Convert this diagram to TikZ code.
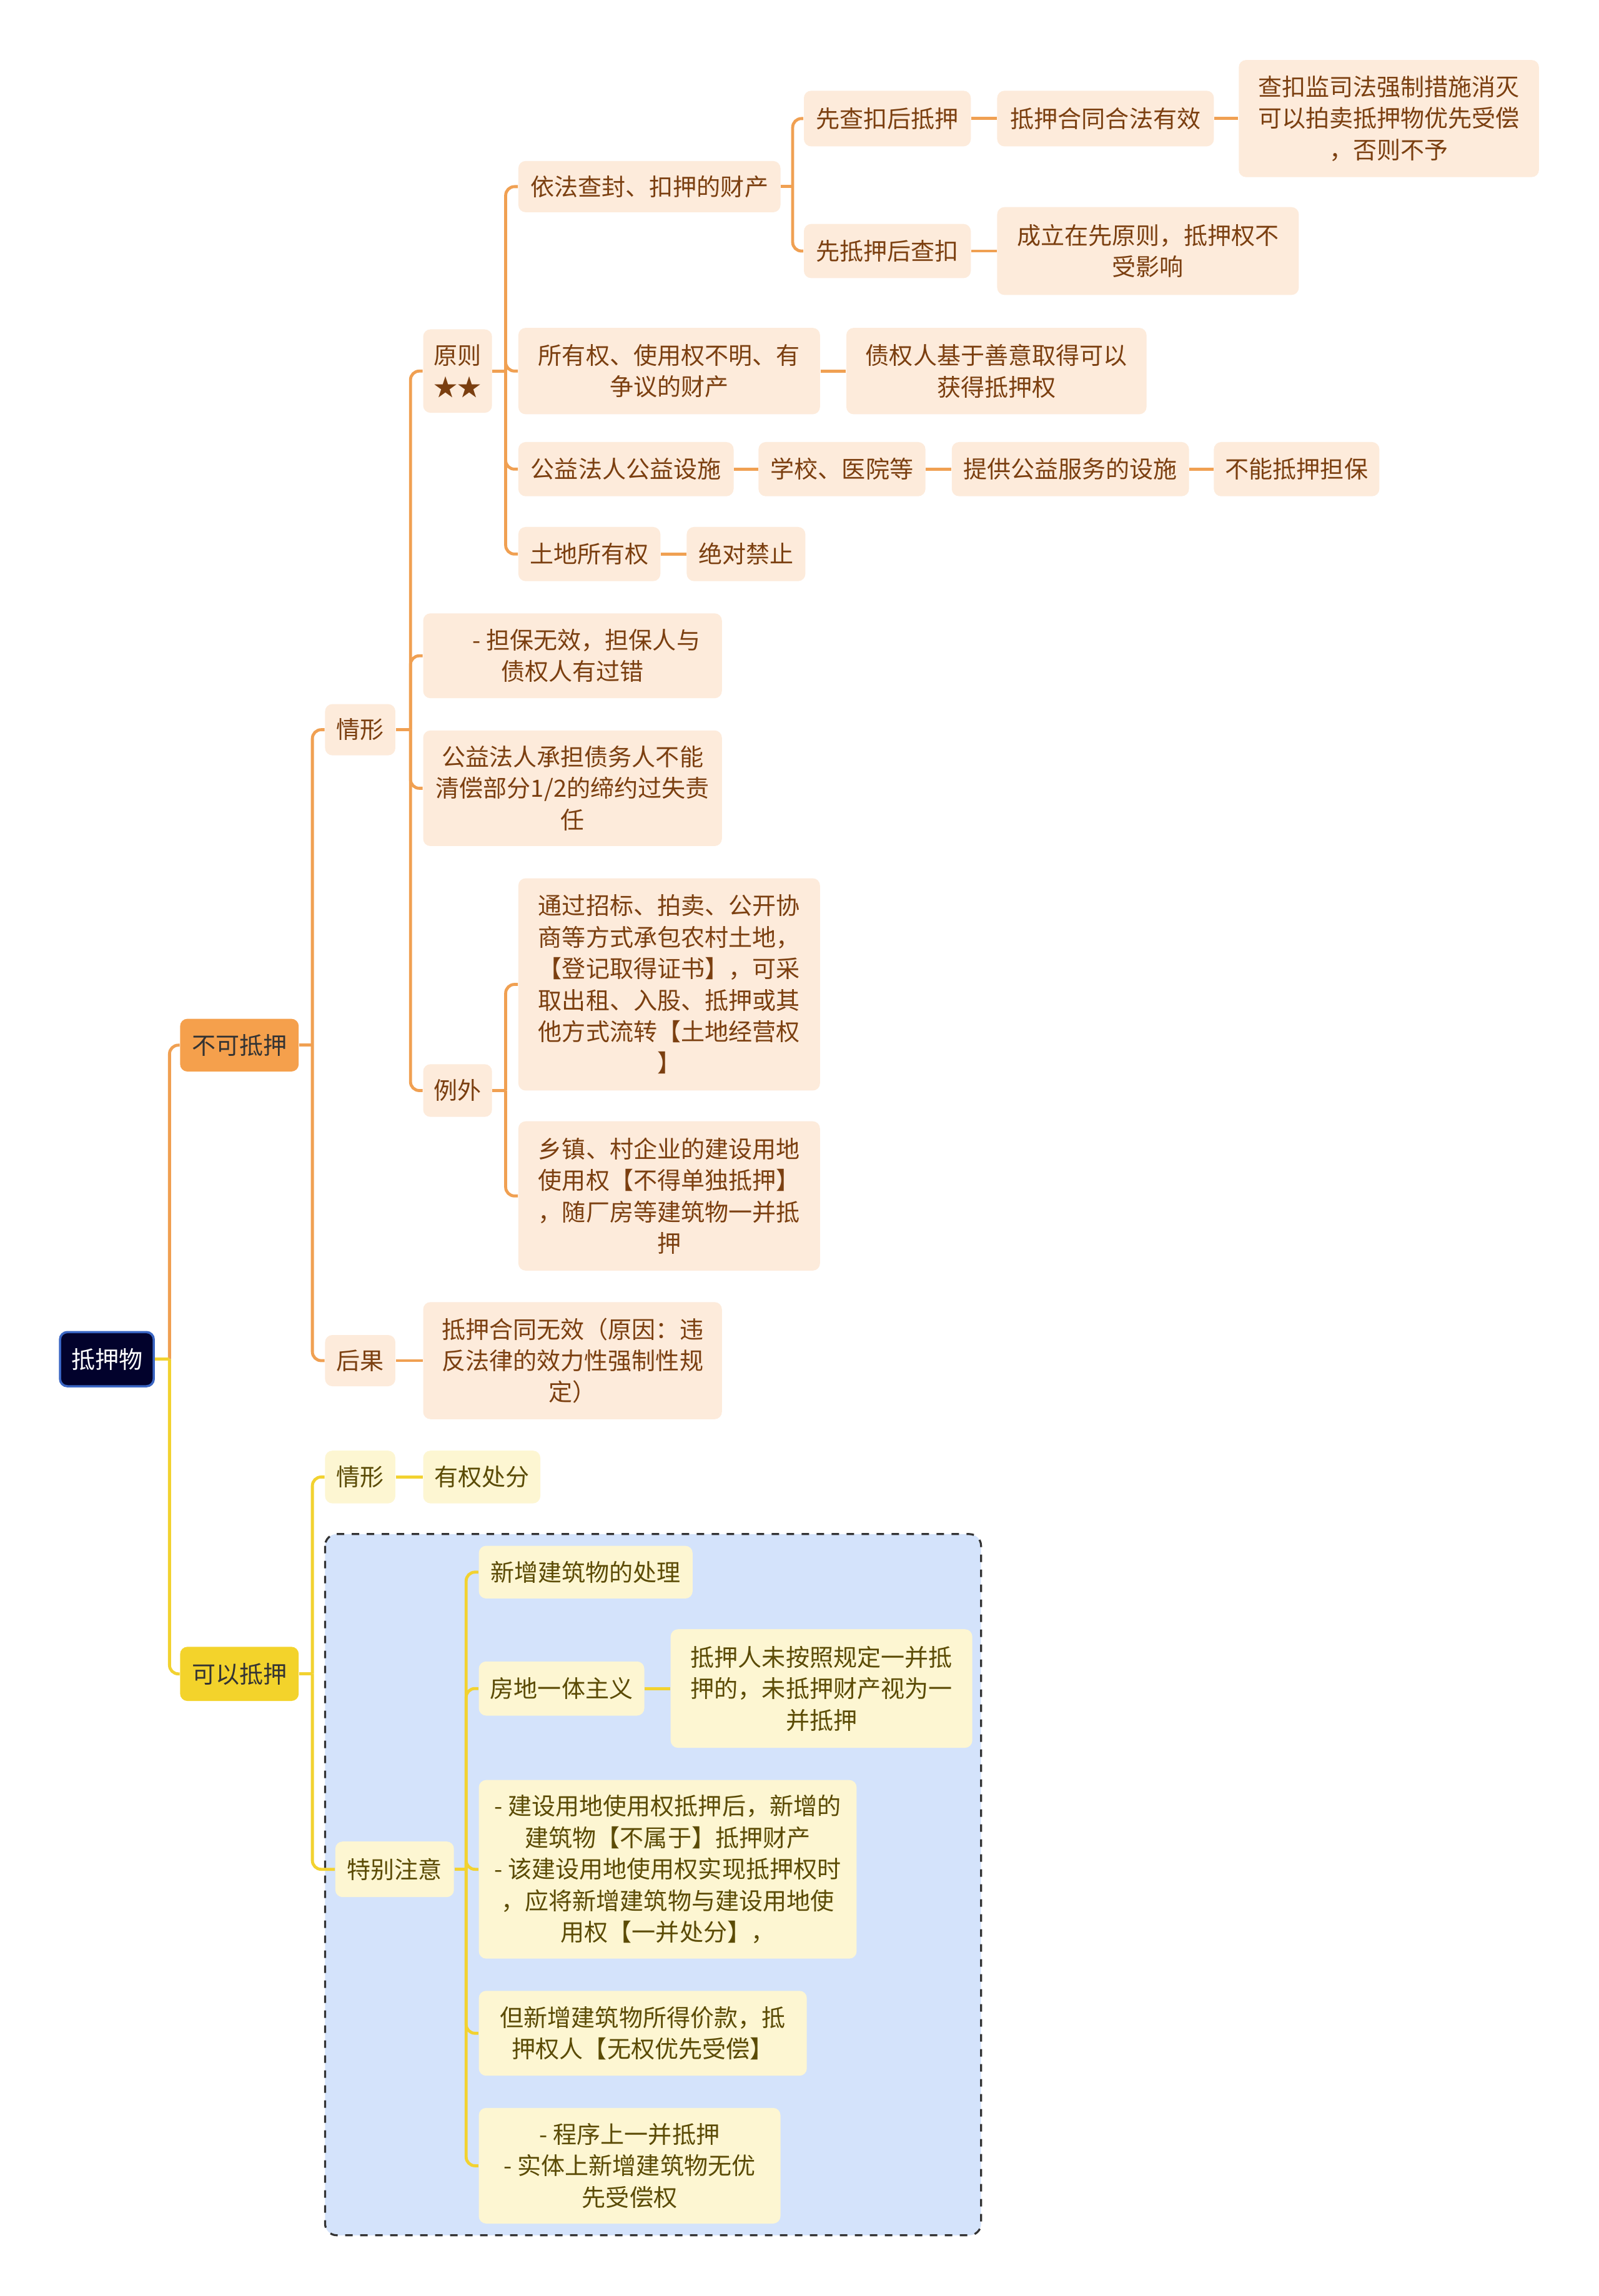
\documentclass[tikz,border=0pt]{standalone}
\usepackage{fontspec}
\setmainfont{Noto Sans CJK SC}
\newlength\pxu
\setlength\pxu{0.586pt}
\definecolor{rootfill}{HTML}{02022C}
\definecolor{rootdraw}{HTML}{3A66C4}
\definecolor{l1o}{HTML}{F5A04C}
\definecolor{l1y}{HTML}{F3D32B}
\definecolor{ofill}{HTML}{FDEBDB}
\definecolor{otext}{HTML}{7B3F10}
\definecolor{yfill}{HTML}{FDF6D2}
\definecolor{ytext}{HTML}{5B4B05}
\definecolor{oline}{HTML}{F0A052}
\definecolor{yline}{HTML}{F2D230}
\definecolor{regfill}{HTML}{D4E3FB}
\definecolor{regdraw}{HTML}{333333}
\tikzset{
  base/.style={rounded corners=5\pxu, align=center, inner sep=0pt,
    font=\fontsize{9.52pt}{12.6pt}\selectfont},
  rootbox/.style={base, fill=rootfill, draw=rootdraw, line width=0.9pt, text=white},
  obig/.style={base, fill=l1o, text=black!80},
  ybig/.style={base, fill=l1y, text=black!80},
  obox/.style={base, fill=ofill, text=otext},
  ybox/.style={base, fill=yfill, text=ytext},
  oconn/.style={draw=oline, line width=1.2pt, rounded corners=6\pxu},
  yconn/.style={draw=yline, line width=1.2pt, rounded corners=6\pxu},
}
\begin{document}
\begin{tikzpicture}[x=0.586pt, y=-0.586pt]
\fill[white] (0,0) rectangle (1092,1568.5);
\useasboundingbox (0,0) rectangle (1092,1568.5);
% region
\path[fill=regfill, draw=regdraw, dashed, line width=0.8pt, rounded corners=8\pxu] (222,1048) rectangle (670,1527);

% nodes
\node[rootbox, minimum width=64\pxu, minimum height=37\pxu] (root) at (73,928.5) {抵押物};
\node[obig, minimum width=81\pxu, minimum height=36\pxu] (no) at (163.5,714) {不可抵押};
\node[ybig, minimum width=81\pxu, minimum height=37\pxu] (yes) at (163.5,1143.5) {可以抵押};

\node[obox, minimum width=48\pxu, minimum height=35\pxu] (qx1) at (246,498.5) {情形};
\node[obox, minimum width=48\pxu, minimum height=35\pxu] (hg) at (246,929.5) {后果};
\node[obox, minimum width=47\pxu, minimum height=57\pxu] (yz) at (312.5,253.5) {原则\\★★};
\node[obox, minimum width=204\pxu, minimum height=58\pxu] (db) at (391,448) {\hspace*{19\pxu}- 担保无效，担保人与\\债权人有过错};
\node[obox, minimum width=204\pxu, minimum height=79\pxu] (gy) at (391,538.5) {公益法人承担债务人不能\\清偿部分1/2的缔约过失责\\任};
\node[obox, minimum width=47\pxu, minimum height=36\pxu] (lw) at (312.5,745) {例外};

\node[obox, minimum width=179\pxu, minimum height=35\pxu] (yf) at (443.5,127.5) {依法查封、扣押的财产};
\node[obox, minimum width=206\pxu, minimum height=59\pxu] (syq) at (457,253.5) {所有权、使用权不明、有\\争议的财产};
\node[obox, minimum width=147\pxu, minimum height=37\pxu] (gyss) at (427.5,320.5) {公益法人公益设施};
\node[obox, minimum width=97\pxu, minimum height=37\pxu] (td) at (402.5,378.5) {土地所有权};

\node[obox, minimum width=114\pxu, minimum height=38\pxu] (xc) at (606,81) {先查扣后抵押};
\node[obox, minimum width=114\pxu, minimum height=37\pxu] (xd) at (606,171.5) {先抵押后查扣};
\node[obox, minimum width=148\pxu, minimum height=38\pxu] (hf) at (755,81) {抵押合同合法有效};
\node[obox, minimum width=205\pxu, minimum height=80\pxu] (cks) at (948.5,81) {查扣监司法强制措施消灭\\可以拍卖抵押物优先受偿\\，否则不予};
\node[obox, minimum width=206\pxu, minimum height=60\pxu] (clzx) at (784,171.5) {成立在先原则，抵押权不\\受影响};
\node[obox, minimum width=205\pxu, minimum height=59\pxu] (zqr) at (680.5,253.5) {债权人基于善意取得可以\\获得抵押权};
\node[obox, minimum width=114\pxu, minimum height=37\pxu] (xx) at (575,320.5) {学校、医院等};
\node[obox, minimum width=162\pxu, minimum height=37\pxu] (tg) at (731,320.5) {提供公益服务的设施};
\node[obox, minimum width=113\pxu, minimum height=37\pxu] (bn) at (885.5,320.5) {不能抵押担保};
\node[obox, minimum width=81\pxu, minimum height=37\pxu] (jd) at (509.5,378.5) {绝对禁止};

\node[obox, minimum width=206\pxu, minimum height=145\pxu] (zb) at (457,672.5) {通过招标、拍卖、公开协\\商等方式承包农村土地，\\【登记取得证书】，可采\\取出租、入股、抵押或其\\他方式流转【土地经营权\\】};
\node[obox, minimum width=206\pxu, minimum height=102\pxu] (xz) at (457,817) {乡镇、村企业的建设用地\\使用权【不得单独抵押】\\，随厂房等建筑物一并抵\\押};
\node[obox, minimum width=204\pxu, minimum height=80\pxu] (wx) at (391,929.5) {抵押合同无效（原因：违\\反法律的效力性强制性规\\定）};

\node[ybox, minimum width=48\pxu, minimum height=36\pxu] (qx2) at (246,1009) {情形};
\node[ybox, minimum width=80\pxu, minimum height=36\pxu] (yq) at (329,1009) {有权处分};
\node[ybox, minimum width=81\pxu, minimum height=38\pxu] (tb) at (269.5,1277) {特别注意};
\node[ybox, minimum width=146\pxu, minimum height=36\pxu] (xz2) at (400,1074) {新增建筑物的处理};
\node[ybox, minimum width=113\pxu, minimum height=37\pxu] (fd) at (383.5,1153.5) {房地一体主义};
\node[ybox, minimum width=206\pxu, minimum height=81\pxu] (dyr) at (561,1153.5) {抵押人未按照规定一并抵\\押的，未抵押财产视为一\\并抵押};
\node[ybox, minimum width=258\pxu, minimum height=122\pxu] (js) at (456,1277) {- 建设用地使用权抵押后，新增的\\建筑物【不属于】抵押财产\\- 该建设用地使用权实现抵押权时\\，应将新增建筑物与建设用地使\\用权【一并处分】，};
\node[ybox, minimum width=224\pxu, minimum height=58\pxu] (dx) at (439,1389) {但新增建筑物所得价款，抵\\押权人【无权优先受偿】};
\node[ybox, minimum width=206\pxu, minimum height=79\pxu] (cx) at (430,1479.5) {- 程序上一并抵押\\- 实体上新增建筑物无优\\先受偿权};

% spine junctions
\coordinate (sroot) at ([xshift=10\pxu]root.east);
\coordinate (sno) at ([xshift=9\pxu]no.east);
\coordinate (sqx) at ([xshift=10\pxu]qx1.east);
\coordinate (syz) at ([xshift=9\pxu]yz.east);
\coordinate (syf) at ([xshift=8\pxu]yf.east);
\coordinate (slw) at ([xshift=9\pxu]lw.east);
\coordinate (syes) at ([xshift=9\pxu]yes.east);
\coordinate (stb) at ([xshift=8\pxu]tb.east);

% orange connectors
\draw[oconn] (sroot) |- (no.west);
\draw[oconn] (no.east) -- (sno);
\draw[oconn] (sno) |- (qx1.west);
\draw[oconn] (sno) |- (hg.west);
\draw[oconn] (qx1.east) -- (sqx);
\draw[oconn] (sqx) |- (yz.west);
\draw[oconn] (sqx) |- (db.west);
\draw[oconn] (sqx) |- (gy.west);
\draw[oconn] (sqx) |- (lw.west);
\draw[oconn] (yz.east) -- (syz);
\draw[oconn] (syz) |- (yf.west);
\draw[oconn] (syz) |- (syq.west);
\draw[oconn] (syz) |- (gyss.west);
\draw[oconn] (syz) |- (td.west);
\draw[oconn] (yf.east) -- (syf);
\draw[oconn] (syf) |- (xc.west);
\draw[oconn] (syf) |- (xd.west);
\draw[oconn] (xc.east) -- (hf.west);
\draw[oconn] (hf.east) -- (cks.west);
\draw[oconn] (xd.east) -- (clzx.west);
\draw[oconn] (syq.east) -- (zqr.west);
\draw[oconn] (gyss.east) -- (xx.west);
\draw[oconn] (xx.east) -- (tg.west);
\draw[oconn] (tg.east) -- (bn.west);
\draw[oconn] (td.east) -- (jd.west);
\draw[oconn] (lw.east) -- (slw);
\draw[oconn] (slw) |- (zb.west);
\draw[oconn] (slw) |- (xz.west);
\draw[oconn] (hg.east) -- (wx.west);

% yellow connectors
\draw[yconn] (root.east) -- (sroot);
\draw[yconn] (sroot) |- (yes.west);
\draw[yconn] (yes.east) -- (syes);
\draw[yconn] (syes) |- (qx2.west);
\draw[yconn] (syes) |- (tb.west);
\draw[yconn] (qx2.east) -- (yq.west);
\draw[yconn] (tb.east) -- (stb);
\draw[yconn] (stb) |- (xz2.west);
\draw[yconn] (stb) |- (fd.west);
\draw[yconn] (stb) |- (js.west);
\draw[yconn] (stb) |- (dx.west);
\draw[yconn] (stb) |- (cx.west);
\draw[yconn] (fd.east) -- (dyr.west);
\end{tikzpicture}
\end{document}
